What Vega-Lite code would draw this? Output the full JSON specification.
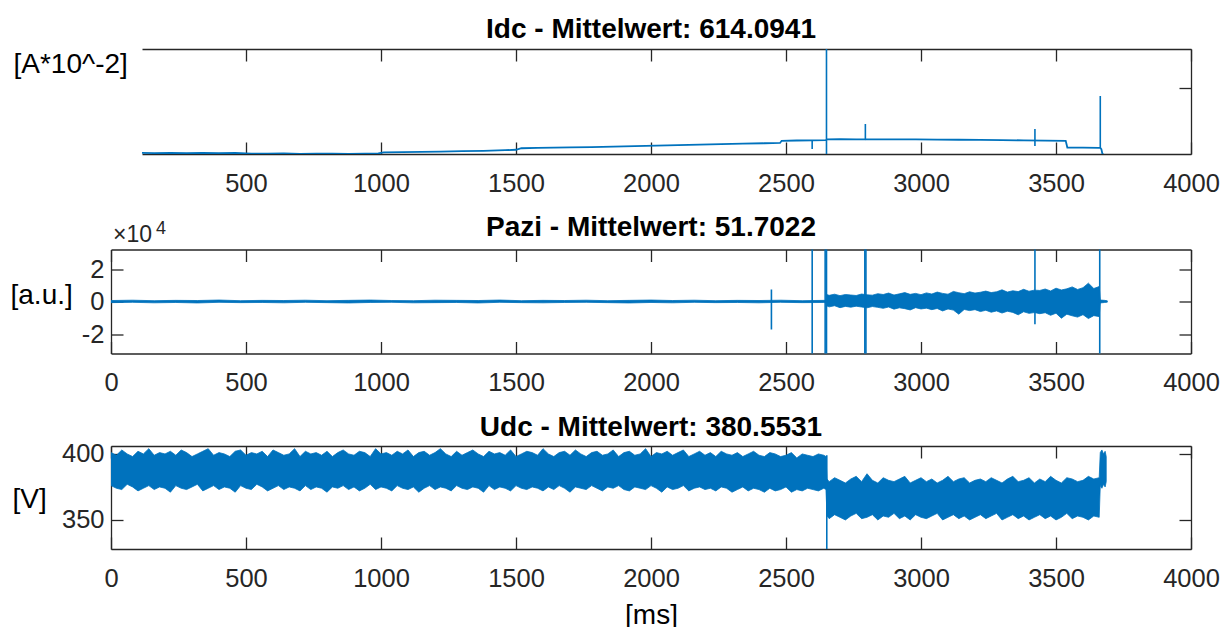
{
  "$schema": "https://vega.github.io/schema/vega-lite/v6.json",
  "background": "white",
  "padding": {"left": 10, "top": 15, "right": 5, "bottom": 0},
  "spacing": 16.5,
  "config": {
    "font": "Liberation Sans",
    "view": {"stroke": null},
    "title": {"font": "Liberation Sans", "fontSize": 28, "fontWeight": "bold", "color": "#000000", "anchor": "middle", "frame": "group"},
    "axis": {
      "grid": false,
      "labelFont": "Liberation Sans",
      "labelFontSize": 25.5,
      "labelColor": "#262626",
      "labelOverlap": false,
      "domainColor": "#262626",
      "domainWidth": 1.3,
      "tickColor": "#262626",
      "tickWidth": 1.3,
      "tickSize": -12,
      "titleFont": "Liberation Sans",
      "titleFontSize": 28,
      "titleFontWeight": "normal",
      "titleColor": "#000000"
    },
    "axisX": {"labelFlush": false, "format": "d"},
    "axisBottom": {"labelPadding": 29, "titlePadding": 10},
    "axisLeft": {"labelPadding": 19, "titleAngle": 0, "titleAlign": "left", "titleBaseline": "middle"},
    "axisTop": {"labels": false},
    "axisRight": {"labels": false}
  },
  "datasets": {
    "idc": [
      {"t":115,"v":570},{"t":160,"v":569},{"t":220,"v":571},{"t":280,"v":568},{"t":340,"v":570},{"t":400,"v":569},{"t":460,"v":571},{"t":520,"v":566},{"t":580,"v":565},{"t":640,"v":567},
      {"t":700,"v":564},{"t":760,"v":566},{"t":820,"v":565},{"t":880,"v":564},{"t":940,"v":566},{"t":990,"v":567},{"t":1010,"v":574},{"t":1080,"v":575},{"t":1150,"v":577},{"t":1220,"v":579},
      {"t":1300,"v":582},{"t":1380,"v":584},{"t":1460,"v":588},{"t":1500,"v":591},{"t":1520,"v":601},{"t":1580,"v":603},{"t":1640,"v":605},{"t":1700,"v":607},{"t":1780,"v":609},{"t":1860,"v":612},
      {"t":1940,"v":615},{"t":2020,"v":618},{"t":2100,"v":621},{"t":2180,"v":625},{"t":2260,"v":628},{"t":2340,"v":631},{"t":2420,"v":634},{"t":2478,"v":636},{"t":2484,"v":650},{"t":2540,"v":652},
      {"t":2600,"v":653},{"t":2648,"v":654},{"t":2652,"v":660},{"t":2700,"v":661},{"t":2760,"v":659},{"t":2820,"v":660},{"t":2900,"v":659},{"t":2980,"v":660},{"t":3060,"v":658},{"t":3140,"v":657},
      {"t":3220,"v":656},{"t":3300,"v":655},{"t":3380,"v":653},{"t":3460,"v":651},{"t":3536,"v":650},{"t":3542,"v":606},{"t":3600,"v":605},{"t":3660,"v":604},{"t":3664,"v":604},{"t":3668,"v":595},
      {"t":3672,"v":563},{"t":3676,"v":563}
    ],
    "idcSpikes": [
      {"t":2597,"lo":596,"hi":653},
      {"t":2650,"lo":540,"hi":1300},
      {"t":2794,"lo":655,"hi":761},
      {"t":3422,"lo":616,"hi":728},
      {"t":3664,"lo":604,"hi":946}
    ],
    "pazi": [
      {"t":0,"lo":-700,"hi":600},{"t":80,"lo":-500,"hi":800},{"t":160,"lo":-800,"hi":500},{"t":240,"lo":-600,"hi":700},{"t":320,"lo":-900,"hi":600},{"t":400,"lo":-500,"hi":900},{"t":480,"lo":-700,"hi":500},{"t":560,"lo":-600,"hi":700},{"t":640,"lo":-800,"hi":600},{"t":720,"lo":-500,"hi":800},
      {"t":800,"lo":-700,"hi":500},{"t":880,"lo":-900,"hi":700},{"t":960,"lo":-600,"hi":900},{"t":1040,"lo":-500,"hi":600},{"t":1120,"lo":-800,"hi":500},{"t":1200,"lo":-700,"hi":800},{"t":1280,"lo":-600,"hi":700},{"t":1360,"lo":-900,"hi":600},{"t":1440,"lo":-500,"hi":900},{"t":1520,"lo":-700,"hi":500},
      {"t":1600,"lo":-800,"hi":700},{"t":1680,"lo":-600,"hi":600},{"t":1760,"lo":-500,"hi":800},{"t":1840,"lo":-700,"hi":500},{"t":1920,"lo":-900,"hi":700},{"t":2000,"lo":-600,"hi":900},{"t":2080,"lo":-800,"hi":600},{"t":2160,"lo":-500,"hi":800},{"t":2240,"lo":-700,"hi":500},{"t":2320,"lo":-600,"hi":700},
      {"t":2400,"lo":-800,"hi":600},{"t":2480,"lo":-500,"hi":800},{"t":2560,"lo":-700,"hi":500},{"t":2640,"lo":-600,"hi":700},{"t":2648,"lo":-600,"hi":600},
      {"t":2652,"lo":-2800,"hi":4200},{"t":2660,"lo":-3300,"hi":3800},{"t":2680,"lo":-2600,"hi":4500},{"t":2700,"lo":-3800,"hi":3600},{"t":2720,"lo":-3000,"hi":4300},{"t":2740,"lo":-3500,"hi":4000},{"t":2760,"lo":-2900,"hi":3700},{"t":2780,"lo":-3400,"hi":4600},{"t":2800,"lo":-3900,"hi":4100},{"t":2820,"lo":-3100,"hi":3900},
      {"t":2840,"lo":-3600,"hi":4800},{"t":2860,"lo":-4200,"hi":4300},{"t":2880,"lo":-3400,"hi":5200},{"t":2900,"lo":-4700,"hi":4000},{"t":2920,"lo":-3900,"hi":4700},{"t":2940,"lo":-4400,"hi":5500},{"t":2960,"lo":-5200,"hi":4400},{"t":2980,"lo":-3800,"hi":5000},{"t":3000,"lo":-4600,"hi":4200},{"t":3020,"lo":-4100,"hi":5300},
      {"t":3040,"lo":-5000,"hi":4600},{"t":3060,"lo":-4300,"hi":5800},{"t":3080,"lo":-5800,"hi":5000},{"t":3100,"lo":-4600,"hi":4500},{"t":3120,"lo":-5300,"hi":6200},{"t":3140,"lo":-7800,"hi":5400},{"t":3160,"lo":-4900,"hi":4800},{"t":3180,"lo":-5600,"hi":6000},{"t":3200,"lo":-5000,"hi":5200},{"t":3220,"lo":-6200,"hi":5700},
      {"t":3240,"lo":-5400,"hi":6400},{"t":3260,"lo":-6600,"hi":5500},{"t":3280,"lo":-5800,"hi":6000},{"t":3300,"lo":-7100,"hi":7200},{"t":3320,"lo":-6000,"hi":5800},{"t":3340,"lo":-6700,"hi":6600},{"t":3360,"lo":-8200,"hi":6100},{"t":3380,"lo":-6300,"hi":7500},{"t":3400,"lo":-7300,"hi":6300},{"t":3420,"lo":-6800,"hi":7000},
      {"t":3440,"lo":-7500,"hi":6800},{"t":3460,"lo":-6900,"hi":7700},{"t":3480,"lo":-8500,"hi":6500},{"t":3500,"lo":-7200,"hi":8200},{"t":3520,"lo":-10300,"hi":7100},{"t":3540,"lo":-7800,"hi":7800},{"t":3560,"lo":-8800,"hi":9000},{"t":3580,"lo":-9600,"hi":7400},{"t":3600,"lo":-8100,"hi":8500},{"t":3620,"lo":-10500,"hi":11300},
      {"t":3640,"lo":-8700,"hi":8000},{"t":3660,"lo":-9300,"hi":9200},
      {"t":3664,"lo":-900,"hi":900},{"t":3680,"lo":-600,"hi":700},{"t":3690,"lo":-400,"hi":400}
    ],
    "paziSpikes": [
      {"t":2446,"lo":-17200,"hi":7400},
      {"t":2597,"lo":-50000,"hi":50000},
      {"t":2645,"lo":-50000,"hi":50000},
      {"t":2650,"lo":-50000,"hi":50000},
      {"t":2792,"lo":-50000,"hi":50000},
      {"t":2796,"lo":-50000,"hi":50000},
      {"t":3422,"lo":-14000,"hi":50000},
      {"t":3662,"lo":-50000,"hi":50000}
    ],
    "exponent": [{"label":"×10","power":"4"}],
    "udc": [
      {"t":0,"lo":376,"hi":401},{"t":20,"lo":374,"hi":399},{"t":40,"lo":373,"hi":403},{"t":60,"lo":377,"hi":400},{"t":80,"lo":375,"hi":398},{"t":100,"lo":372,"hi":402},{"t":120,"lo":374,"hi":400},{"t":140,"lo":376,"hi":404},{"t":160,"lo":373,"hi":399},{"t":180,"lo":375,"hi":401},
      {"t":200,"lo":374,"hi":400},{"t":220,"lo":371,"hi":402},{"t":240,"lo":376,"hi":399},{"t":260,"lo":374,"hi":403},{"t":280,"lo":373,"hi":401},{"t":300,"lo":375,"hi":398},{"t":320,"lo":377,"hi":400},{"t":340,"lo":372,"hi":402},{"t":360,"lo":374,"hi":404},{"t":380,"lo":376,"hi":399},
      {"t":400,"lo":373,"hi":401},{"t":420,"lo":375,"hi":400},{"t":440,"lo":374,"hi":398},{"t":460,"lo":371,"hi":402},{"t":480,"lo":376,"hi":403},{"t":500,"lo":374,"hi":399},{"t":520,"lo":373,"hi":401},{"t":540,"lo":377,"hi":400},{"t":560,"lo":375,"hi":402},{"t":580,"lo":372,"hi":398},
      {"t":600,"lo":374,"hi":403},{"t":620,"lo":376,"hi":401},{"t":640,"lo":373,"hi":399},{"t":660,"lo":375,"hi":400},{"t":680,"lo":374,"hi":404},{"t":700,"lo":372,"hi":398},{"t":720,"lo":376,"hi":402},{"t":740,"lo":373,"hi":400},{"t":760,"lo":375,"hi":401},{"t":780,"lo":374,"hi":399},
      {"t":800,"lo":371,"hi":402},{"t":820,"lo":375,"hi":398},{"t":840,"lo":374,"hi":401},{"t":860,"lo":376,"hi":403},{"t":880,"lo":373,"hi":400},{"t":900,"lo":375,"hi":399},{"t":920,"lo":372,"hi":402},{"t":940,"lo":374,"hi":401},{"t":960,"lo":377,"hi":398},{"t":980,"lo":373,"hi":404},
      {"t":1000,"lo":375,"hi":400},{"t":1020,"lo":374,"hi":401},{"t":1040,"lo":372,"hi":399},{"t":1060,"lo":376,"hi":402},{"t":1080,"lo":374,"hi":400},{"t":1100,"lo":373,"hi":403},{"t":1120,"lo":375,"hi":398},{"t":1140,"lo":371,"hi":401},{"t":1160,"lo":374,"hi":402},{"t":1180,"lo":376,"hi":399},
      {"t":1200,"lo":373,"hi":401},{"t":1220,"lo":375,"hi":404},{"t":1240,"lo":374,"hi":400},{"t":1260,"lo":372,"hi":398},{"t":1280,"lo":376,"hi":402},{"t":1300,"lo":374,"hi":399},{"t":1320,"lo":373,"hi":401},{"t":1340,"lo":375,"hi":403},{"t":1360,"lo":374,"hi":400},{"t":1380,"lo":371,"hi":398},
      {"t":1400,"lo":376,"hi":402},{"t":1420,"lo":373,"hi":400},{"t":1440,"lo":375,"hi":401},{"t":1460,"lo":374,"hi":399},{"t":1480,"lo":372,"hi":403},{"t":1500,"lo":376,"hi":398},{"t":1520,"lo":374,"hi":400},{"t":1540,"lo":373,"hi":402},{"t":1560,"lo":375,"hi":401},{"t":1580,"lo":374,"hi":399},
      {"t":1600,"lo":372,"hi":404},{"t":1620,"lo":375,"hi":400},{"t":1640,"lo":373,"hi":398},{"t":1660,"lo":376,"hi":401},{"t":1680,"lo":374,"hi":402},{"t":1700,"lo":371,"hi":399},{"t":1720,"lo":375,"hi":403},{"t":1740,"lo":374,"hi":400},{"t":1760,"lo":373,"hi":398},{"t":1780,"lo":376,"hi":401},
      {"t":1800,"lo":374,"hi":402},{"t":1820,"lo":372,"hi":399},{"t":1840,"lo":375,"hi":400},{"t":1860,"lo":374,"hi":403},{"t":1880,"lo":376,"hi":398},{"t":1900,"lo":373,"hi":401},{"t":1920,"lo":372,"hi":402},{"t":1940,"lo":375,"hi":399},{"t":1960,"lo":374,"hi":400},{"t":1980,"lo":373,"hi":404},
      {"t":2000,"lo":376,"hi":398},{"t":2020,"lo":374,"hi":401},{"t":2040,"lo":371,"hi":400},{"t":2060,"lo":375,"hi":402},{"t":2080,"lo":373,"hi":399},{"t":2100,"lo":374,"hi":401},{"t":2120,"lo":376,"hi":403},{"t":2140,"lo":372,"hi":398},{"t":2160,"lo":374,"hi":400},{"t":2180,"lo":375,"hi":402},
      {"t":2200,"lo":373,"hi":399},{"t":2220,"lo":374,"hi":401},{"t":2240,"lo":372,"hi":398},{"t":2260,"lo":375,"hi":402},{"t":2280,"lo":374,"hi":400},{"t":2300,"lo":371,"hi":399},{"t":2320,"lo":373,"hi":401},{"t":2340,"lo":375,"hi":398},{"t":2360,"lo":372,"hi":400},{"t":2380,"lo":374,"hi":402},
      {"t":2400,"lo":373,"hi":399},{"t":2420,"lo":371,"hi":398},{"t":2440,"lo":374,"hi":401},{"t":2460,"lo":372,"hi":400},{"t":2480,"lo":373,"hi":398},{"t":2500,"lo":375,"hi":399},{"t":2520,"lo":371,"hi":401},{"t":2540,"lo":373,"hi":397},{"t":2560,"lo":372,"hi":400},{"t":2580,"lo":374,"hi":399},
      {"t":2600,"lo":373,"hi":398},{"t":2620,"lo":372,"hi":400},{"t":2640,"lo":374,"hi":399},{"t":2648,"lo":373,"hi":398},
      {"t":2652,"lo":353,"hi":381},{"t":2660,"lo":351,"hi":379},{"t":2680,"lo":354,"hi":382},{"t":2700,"lo":352,"hi":380},{"t":2720,"lo":350,"hi":378},{"t":2740,"lo":353,"hi":381},{"t":2760,"lo":355,"hi":383},{"t":2780,"lo":351,"hi":379},{"t":2800,"lo":352,"hi":385},{"t":2820,"lo":354,"hi":380},
      {"t":2840,"lo":350,"hi":378},{"t":2860,"lo":353,"hi":382},{"t":2880,"lo":352,"hi":380},{"t":2900,"lo":355,"hi":379},{"t":2920,"lo":351,"hi":381},{"t":2940,"lo":353,"hi":383},{"t":2960,"lo":350,"hi":378},{"t":2980,"lo":354,"hi":380},{"t":3000,"lo":352,"hi":382},{"t":3020,"lo":351,"hi":379},
      {"t":3040,"lo":353,"hi":381},{"t":3060,"lo":355,"hi":378},{"t":3080,"lo":350,"hi":380},{"t":3100,"lo":352,"hi":383},{"t":3120,"lo":354,"hi":379},{"t":3140,"lo":351,"hi":381},{"t":3160,"lo":353,"hi":382},{"t":3180,"lo":350,"hi":378},{"t":3200,"lo":352,"hi":380},{"t":3220,"lo":354,"hi":381},
      {"t":3240,"lo":351,"hi":379},{"t":3260,"lo":353,"hi":382},{"t":3280,"lo":355,"hi":380},{"t":3300,"lo":350,"hi":378},{"t":3320,"lo":352,"hi":381},{"t":3340,"lo":354,"hi":383},{"t":3360,"lo":351,"hi":379},{"t":3380,"lo":353,"hi":380},{"t":3400,"lo":350,"hi":382},{"t":3420,"lo":352,"hi":378},
      {"t":3440,"lo":354,"hi":381},{"t":3460,"lo":351,"hi":379},{"t":3480,"lo":353,"hi":383},{"t":3500,"lo":350,"hi":380},{"t":3520,"lo":352,"hi":378},{"t":3540,"lo":355,"hi":382},{"t":3560,"lo":351,"hi":381},{"t":3580,"lo":353,"hi":379},{"t":3600,"lo":352,"hi":380},{"t":3620,"lo":350,"hi":383},
      {"t":3640,"lo":353,"hi":381},{"t":3660,"lo":352,"hi":382},
      {"t":3664,"lo":376,"hi":401},{"t":3670,"lo":374,"hi":403},{"t":3676,"lo":377,"hi":400},{"t":3682,"lo":375,"hi":402},{"t":3686,"lo":379,"hi":398}
    ],
    "udcSpikes": [
      {"t":2651,"lo":320,"hi":399}
    ]
  },
  "vconcat": [
    {
      "width": 1080,
      "height": 105,
      "title": {"text": "Idc - Mittelwert: 614.0941", "offset": 4.5},
      "resolve": {"axis": {"x": "independent", "y": "independent"}},
      "layer": [
        {
          "data": {"name": "idc"},
          "mark": {"type": "line", "color": "#0072BD", "strokeWidth": 1.8, "clip": true},
          "encoding": {
            "x": {"field": "t", "type": "quantitative",
                  "scale": {"domain": [115, 4000], "range": [31, 1080], "nice": false, "zero": false},
                  "axis": {"orient": "bottom", "values": [500, 1000, 1500, 2000, 2500, 3000, 3500, 4000], "title": null}},
            "y": {"field": "v", "type": "quantitative",
                  "scale": {"domain": [563, 1256], "nice": false, "zero": false},
                  "axis": {"orient": "left", "domain": false, "ticks": false, "labels": false, "title": "[A*10^-2]", "titleX": -98, "titleY": 15}}
          }
        },
        {
          "data": {"name": "idcSpikes"},
          "mark": {"type": "rule", "color": "#0072BD", "strokeWidth": 1.6, "clip": true},
          "encoding": {
            "x": {"field": "t", "type": "quantitative",
                  "scale": {"domain": [115, 4000], "range": [31, 1080], "nice": false, "zero": false},
                  "axis": {"orient": "top", "values": [500, 1000, 1500, 2000, 2500, 3000, 3500, 4000], "title": null}},
            "y": {"field": "lo", "type": "quantitative",
                  "scale": {"domain": [563, 1256], "nice": false, "zero": false},
                  "axis": {"orient": "right", "values": [1000], "title": null}},
            "y2": {"field": "hi"}
          }
        }
      ]
    },
    {
      "width": 1080,
      "height": 104,
      "title": {"text": "Pazi - Mittelwert: 51.7022", "offset": -22},
      "resolve": {"axis": {"x": "independent", "y": "independent"}},
      "layer": [
        {
          "data": {"name": "pazi"},
          "mark": {"type": "area", "color": "#0072BD", "stroke": "#0072BD", "strokeWidth": 0.8, "clip": true},
          "encoding": {
            "x": {"field": "t", "type": "quantitative",
                  "scale": {"domain": [0, 4000], "nice": false, "zero": false},
                  "axis": {"orient": "bottom", "values": [0, 500, 1000, 1500, 2000, 2500, 3000, 3500, 4000], "title": null}},
            "y": {"field": "lo", "type": "quantitative",
                  "scale": {"domain": [-32000, 32000], "nice": false, "zero": false},
                  "axis": {"orient": "left", "values": [-20000, 0, 20000], "labelExpr": "'' + datum.value / 10000", "title": "[a.u.]", "titleX": -101, "titleY": 46}},
            "y2": {"field": "hi"}
          }
        },
        {
          "data": {"name": "paziSpikes"},
          "mark": {"type": "rule", "color": "#0072BD", "strokeWidth": 1.6, "clip": true},
          "encoding": {
            "x": {"field": "t", "type": "quantitative",
                  "scale": {"domain": [0, 4000], "nice": false, "zero": false},
                  "axis": {"orient": "top", "values": [0, 500, 1000, 1500, 2000, 2500, 3000, 3500, 4000], "title": null}},
            "y": {"field": "lo", "type": "quantitative",
                  "scale": {"domain": [-32000, 32000], "nice": false, "zero": false},
                  "axis": {"orient": "right", "values": [-20000, 0, 20000], "title": null}},
            "y2": {"field": "hi"}
          }
        },
        {
          "data": {"name": "exponent"},
          "mark": {"type": "text", "align": "left", "baseline": "alphabetic", "font": "Liberation Sans", "fontSize": 23, "color": "#262626", "dx": 2, "dy": -8},
          "encoding": {
            "x": {"datum": 0, "type": "quantitative", "scale": {"domain": [0, 4000], "nice": false, "zero": false}, "axis": null},
            "y": {"datum": 32000, "type": "quantitative", "scale": {"domain": [-32000, 32000], "nice": false, "zero": false}, "axis": null},
            "text": {"field": "label"}
          }
        },
        {
          "data": {"name": "exponent"},
          "mark": {"type": "text", "align": "left", "baseline": "alphabetic", "font": "Liberation Sans", "fontSize": 18, "color": "#262626", "dx": 45, "dy": -16},
          "encoding": {
            "x": {"datum": 0, "type": "quantitative", "scale": {"domain": [0, 4000], "nice": false, "zero": false}, "axis": null},
            "y": {"datum": 32000, "type": "quantitative", "scale": {"domain": [-32000, 32000], "nice": false, "zero": false}, "axis": null},
            "text": {"field": "power"}
          }
        }
      ]
    },
    {
      "width": 1080,
      "height": 103,
      "title": {"text": "Udc - Mittelwert: 380.5531", "offset": 0},
      "resolve": {"axis": {"x": "independent", "y": "independent"}},
      "layer": [
        {
          "data": {"name": "udc"},
          "mark": {"type": "area", "color": "#0072BD", "stroke": "#0072BD", "strokeWidth": 0.8, "clip": true},
          "encoding": {
            "x": {"field": "t", "type": "quantitative",
                  "scale": {"domain": [0, 4000], "nice": false, "zero": false},
                  "axis": {"orient": "bottom", "values": [0, 500, 1000, 1500, 2000, 2500, 3000, 3500, 4000], "title": "[ms]"}},
            "y": {"field": "lo", "type": "quantitative",
                  "scale": {"domain": [328, 406], "nice": false, "zero": false},
                  "axis": {"orient": "left", "values": [350, 400], "title": "[V]", "titleX": -99, "titleY": 53}},
            "y2": {"field": "hi"}
          }
        },
        {
          "data": {"name": "udcSpikes"},
          "mark": {"type": "rule", "color": "#0072BD", "strokeWidth": 1.6, "clip": true},
          "encoding": {
            "x": {"field": "t", "type": "quantitative",
                  "scale": {"domain": [0, 4000], "nice": false, "zero": false},
                  "axis": {"orient": "top", "values": [0, 500, 1000, 1500, 2000, 2500, 3000, 3500, 4000], "title": null}},
            "y": {"field": "lo", "type": "quantitative",
                  "scale": {"domain": [328, 406], "nice": false, "zero": false},
                  "axis": {"orient": "right", "values": [350, 400], "title": null}},
            "y2": {"field": "hi"}
          }
        }
      ]
    }
  ]
}
